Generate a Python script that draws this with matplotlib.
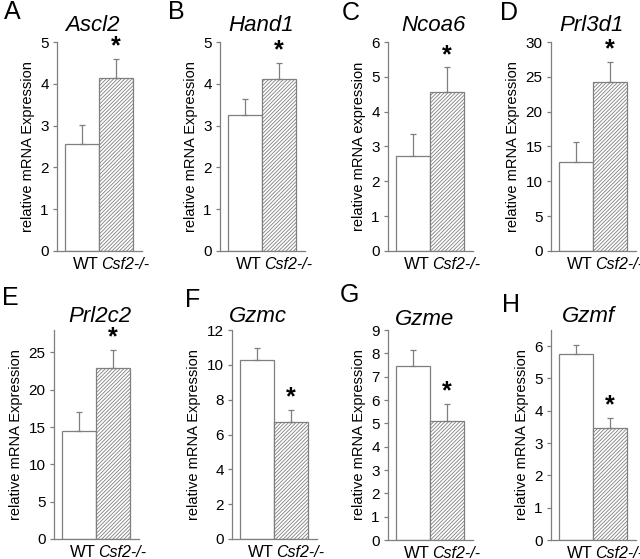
"""
Relative mRNA expression, WT vs Csf2-/- (panels A-H).
"""

import matplotlib
matplotlib.use('Agg')
from matplotlib import pyplot

FIG_W_PX = 640
FIG_H_PX = 559
DPI = 100
GREY = '#7f7f7f'

pyplot.rcParams['font.family'] = ['Liberation Sans', 'DejaVu Sans']
pyplot.rcParams['hatch.color'] = GREY
pyplot.rcParams['hatch.linewidth'] = 0.6

panel_letters = ['A', 'B', 'C', 'D', 'E', 'F', 'G', 'H']
gene_names = ['Ascl2', 'Hand1', 'Ncoa6', 'Prl3d1', 'Prl2c2', 'Gzmc', 'Gzme', 'Gzmf']
groups = ['WT', 'Csf2-/-']
wt_means = [2.55, 3.25, 2.73, 12.8, 14.5, 10.3, 7.45, 5.75]
wt_errors = [0.47, 0.38, 0.64, 2.8, 2.5, 0.65, 0.70, 0.30]
ko_means = [4.15, 4.12, 4.57, 24.3, 22.9, 6.7, 5.08, 3.48]
ko_errors = [0.45, 0.38, 0.70, 2.8, 2.4, 0.70, 0.75, 0.30]
y_max = [5, 5, 6, 30, 28, 12, 9, 6.5]
y_ticks = [
    [0, 1, 2, 3, 4, 5],
    [0, 1, 2, 3, 4, 5],
    [0, 1, 2, 3, 4, 5, 6],
    [0, 5, 10, 15, 20, 25, 30],
    [0, 5, 10, 15, 20, 25],
    [0, 2, 4, 6, 8, 10, 12],
    [0, 1, 2, 3, 4, 5, 6, 7, 8, 9],
    [0, 1, 2, 3, 4, 5, 6],
]
y_labels = ['relative mRNA Expression'] * 8
y_labels[2] = 'relative mRNA expression'

# layout in pixels: (spine x, axis top y, axis bottom y)
axes_px = [
    (57, 42, 251), (220, 42, 251), (388, 42, 251), (551, 42, 251),
    (54, 330, 539), (232, 330, 539), (388, 330, 540), (551, 330, 540),
]
letters_px = [(4, 19), (168, 19), (342, 20), (500, 20),
              (2, 305), (185, 307), (340, 302), (502, 312)]
titles_px = [(92, 31), (261, 31), (433, 31), (592, 31),
             (100, 322), (258, 322), (425, 325), (588, 322)]
AXES_W_PX = 85
BAR_OFFSET_PX = 8
BAR_W_PX = 34


def fx(x):
    return x / FIG_W_PX


def fy(y):
    return 1 - y / FIG_H_PX


def draw_panel(fig, i):
    sx, top, bottom = axes_px[i]
    ax = fig.add_axes([fx(sx), fy(bottom), AXES_W_PX / FIG_W_PX, (bottom - top) / FIG_H_PX])
    x_left = -0.5 - BAR_OFFSET_PX / BAR_W_PX
    ax.set_xlim(x_left, x_left + AXES_W_PX / BAR_W_PX)
    ax.set_ylim(0, y_max[i])

    err_style = dict(ecolor=GREY, elinewidth=0.9, capsize=2, capthick=0.9)
    ax.bar(0, wt_means[i], width=1, color='white', edgecolor=GREY, lw=0.9,
           yerr=[[0], [wt_errors[i]]], error_kw=err_style)
    ax.bar(1, ko_means[i], width=1, color='white', edgecolor=GREY, lw=0.9, hatch='/////////',
           yerr=[[0], [ko_errors[i]]], error_kw=err_style)

    ax.annotate('*', (1, ko_means[i] + ko_errors[i]), xytext=(0, 9), textcoords='offset points',
                ha='center', va='center', fontsize=18, fontweight='bold')

    for side in ('top', 'right'):
        ax.spines[side].set_visible(False)
    for side in ('left', 'bottom'):
        ax.spines[side].set_color(GREY)
        ax.spines[side].set_linewidth(0.9)

    ax.set_yticks(y_ticks[i])
    ax.tick_params(axis='y', direction='out', length=3, width=0.9, color=GREY, labelsize=11, pad=3)
    ax.set_xticks([])
    ax.set_ylabel(y_labels[i], fontsize=10.5, labelpad=4)

    ax.text(0.5, -0.03, groups[0], transform=ax.get_xaxis_transform(),
            ha='right', va='top', fontsize=12)
    ax.text(0.57, -0.03, groups[1], transform=ax.get_xaxis_transform(),
            ha='left', va='top', fontsize=11.5, style='italic')

    lx, ly = letters_px[i]
    fig.text(fx(lx), fy(ly), panel_letters[i], fontsize=18, ha='left', va='baseline')
    tx, ty = titles_px[i]
    fig.text(fx(tx), fy(ty), gene_names[i], fontsize=16, style='italic', ha='center', va='baseline')


def main():
    fig = pyplot.figure(figsize=(FIG_W_PX / DPI, FIG_H_PX / DPI), dpi=DPI)
    for i in range(len(gene_names)):
        draw_panel(fig, i)
    fig.savefig('out.png', dpi=DPI, facecolor='white')


if __name__ == '__main__':
    main()
